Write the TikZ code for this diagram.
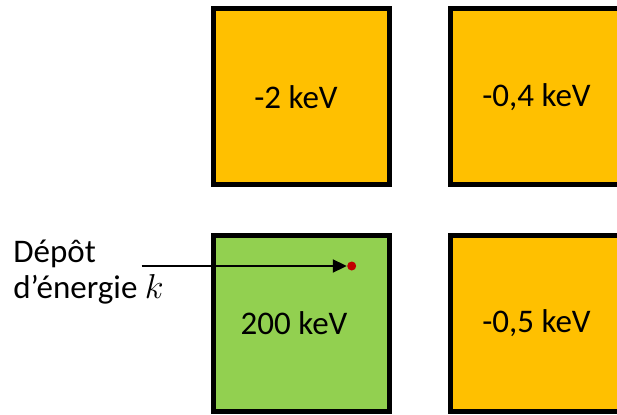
\documentclass[tikz,border=0pt]{standalone}
\usepackage{fontspec}
\setmainfont{Carlito}
\usetikzlibrary{arrows.meta}
\definecolor{cellorange}{HTML}{FFC000}
\definecolor{cellgreen}{HTML}{92D050}
\definecolor{hitred}{HTML}{C00000}

\begin{document}
\begin{tikzpicture}[x=0.5pt,y=0.5pt,
    font=\fontsize{16.5}{17.8}\selectfont,
    cell/.style={draw=black,line width=2.5pt,minimum size=88pt,inner sep=0pt},
    celltext/.style={inner sep=0pt},
    hitdot/.style={circle,fill=hitred,inner sep=0pt,minimum size=4.5pt}]
  % Frame of the picture (right column is cut by the edge)
  \useasboundingbox (0,0) rectangle (617,414);
  \clip (0,0) rectangle (617,414);

  % Crystal cells
  \node[cell,fill=cellorange] (c11) at (301.5,317.5) {};
  \node[cell,fill=cellorange] (c12) at (538.5,317.5) {};
  \node[cell,fill=cellgreen]  (c21) at (301.5,91)    {};
  \node[cell,fill=cellorange] (c22) at (538.5,91)    {};

  % Cell energies
  \node[celltext] (e11) at (296,317) {-2 keV};
  \node[celltext] (e12) at (536.5,317) {-0,4 keV};
  \node[celltext] (e21) at (294,91) {200 keV};
  \node[celltext] (e22) at (536.5,91) {-0,5 keV};

  % Energy deposit point and label
  \node[hitdot] (hit) at (351.7,148) {};
  \node[anchor=base west,align=left,inner sep=0pt] (dep) at (13,115.7)
    {Dépôt\\d’énergie $k$};
  \coordinate (arrstart) at (141.7,148);
  \draw[-{Triangle[length=7pt,width=6.5pt]},line width=1pt] (arrstart) -- (hit);
\end{tikzpicture}
\end{document}
